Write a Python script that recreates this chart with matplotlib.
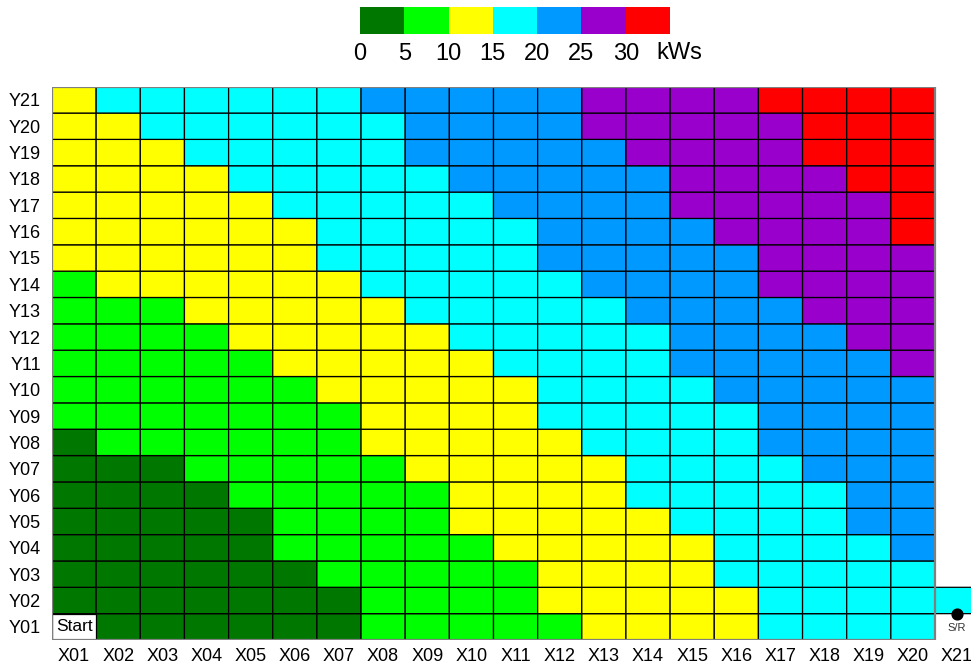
import numpy as np
import matplotlib
matplotlib.use("Agg")
import matplotlib.pyplot as plt
from matplotlib.colors import ListedColormap, BoundaryNorm
from matplotlib.patches import Rectangle

plt.rcParams["font.family"] = ["Liberation Sans", "DejaVu Sans"]

# Energy class per rack cell (bin index of 5 kWs steps), rows Y01..Y21, columns X01..X20
# nan marks the start cell
N = np.nan
energy_bins = [
    [N, 0, 0, 0, 0, 0, 0, 1, 1, 1, 1, 1, 2, 2, 2, 2, 3, 3, 3, 3],  # Y01
    [0, 0, 0, 0, 0, 0, 0, 1, 1, 1, 1, 2, 2, 2, 2, 2, 3, 3, 3, 3],  # Y02
    [0, 0, 0, 0, 0, 0, 1, 1, 1, 1, 1, 2, 2, 2, 2, 3, 3, 3, 3, 3],  # Y03
    [0, 0, 0, 0, 0, 1, 1, 1, 1, 1, 2, 2, 2, 2, 2, 3, 3, 3, 3, 4],  # Y04
    [0, 0, 0, 0, 0, 1, 1, 1, 1, 2, 2, 2, 2, 2, 3, 3, 3, 3, 4, 4],  # Y05
    [0, 0, 0, 0, 1, 1, 1, 1, 1, 2, 2, 2, 2, 3, 3, 3, 3, 3, 4, 4],  # Y06
    [0, 0, 0, 1, 1, 1, 1, 1, 2, 2, 2, 2, 2, 3, 3, 3, 3, 4, 4, 4],  # Y07
    [0, 1, 1, 1, 1, 1, 1, 2, 2, 2, 2, 2, 3, 3, 3, 3, 4, 4, 4, 4],  # Y08
    [1, 1, 1, 1, 1, 1, 1, 2, 2, 2, 2, 3, 3, 3, 3, 3, 4, 4, 4, 4],  # Y09
    [1, 1, 1, 1, 1, 1, 2, 2, 2, 2, 2, 3, 3, 3, 3, 4, 4, 4, 4, 4],  # Y10
    [1, 1, 1, 1, 1, 2, 2, 2, 2, 2, 3, 3, 3, 3, 4, 4, 4, 4, 4, 5],  # Y11
    [1, 1, 1, 1, 2, 2, 2, 2, 2, 3, 3, 3, 3, 3, 4, 4, 4, 4, 5, 5],  # Y12
    [1, 1, 1, 2, 2, 2, 2, 2, 3, 3, 3, 3, 3, 4, 4, 4, 4, 5, 5, 5],  # Y13
    [1, 2, 2, 2, 2, 2, 2, 3, 3, 3, 3, 3, 4, 4, 4, 4, 5, 5, 5, 5],  # Y14
    [2, 2, 2, 2, 2, 2, 3, 3, 3, 3, 3, 4, 4, 4, 4, 4, 5, 5, 5, 5],  # Y15
    [2, 2, 2, 2, 2, 2, 3, 3, 3, 3, 3, 4, 4, 4, 4, 5, 5, 5, 5, 6],  # Y16
    [2, 2, 2, 2, 2, 3, 3, 3, 3, 3, 4, 4, 4, 4, 5, 5, 5, 5, 5, 6],  # Y17
    [2, 2, 2, 2, 3, 3, 3, 3, 3, 4, 4, 4, 4, 4, 5, 5, 5, 5, 6, 6],  # Y18
    [2, 2, 2, 3, 3, 3, 3, 3, 4, 4, 4, 4, 4, 5, 5, 5, 5, 6, 6, 6],  # Y19
    [2, 2, 3, 3, 3, 3, 3, 3, 4, 4, 4, 4, 5, 5, 5, 5, 5, 6, 6, 6],  # Y20
    [2, 3, 3, 3, 3, 3, 3, 4, 4, 4, 4, 4, 5, 5, 5, 5, 6, 6, 6, 6],  # Y21
]
# Storage/retrieval station column X21: only the Y02 slot exists
sr_column = [N, 3] + [N] * 19

x_labels = ["X%02d" % i for i in range(1, 22)]
y_labels = ["Y%02d" % i for i in range(1, 22)]
bin_edges_kws = [0, 5, 10, 15, 20, 25, 30]
unit_label = "kWs"
bin_colors = ["#007800", "#00ff00", "#ffff00", "#00ffff", "#0099ff", "#9900cc", "#ff0000"]

cmap = ListedColormap(bin_colors)
norm = BoundaryNorm(np.arange(-0.5, len(bin_colors) + 0.5, 1), cmap.N)

W, H = 971, 668
fig = plt.figure(figsize=(W / 100, H / 100), dpi=100)

# main grid axes; x range extends past X20 so the X21 slot is cut at the figure edge
cell_w = (935 - 52) / 20.0
x_right = 20.5 + (971 - 935) / cell_w
ax = fig.add_axes([52 / W, 1 - 640 / H, (971 - 52) / W, (640 - 86.7) / H])

grid = np.column_stack([np.array(energy_bins, dtype=float), np.array(sr_column, dtype=float)])
masked = np.ma.masked_invalid(grid)
xe = np.arange(0.5, grid.shape[1] + 1, 1)
ye = np.arange(0.5, grid.shape[0] + 1, 1)
ax.pcolor(xe, ye, masked, cmap=cmap, norm=norm, edgecolors="black", linewidth=0.9)

# start cell
ax.add_patch(Rectangle((0.5, 0.5), 1, 1, facecolor="white", edgecolor="black", linewidth=0.9))
ax.text(1.0, 1.0, "Start", ha="center", va="center", fontsize=12.5)

# outer frame of the rack
ax.add_patch(Rectangle((0.5, 0.5), 20, 21, fill=False, edgecolor="#7f7f7f", linewidth=1.6, zorder=5))

# S/R point
ax.scatter([21], [1.5], s=60, color="black", zorder=6, clip_on=False)
ax.text(21, 0.95, "S/R", ha="center", va="center", fontsize=8, color="#333333")

ax.set_xlim(0.5, x_right)
ax.set_ylim(0.5, 21.5)
ax.set_xticks(np.arange(1, 22))
ax.set_xticklabels(x_labels, fontsize=13)
ax.set_yticks(np.arange(1, 22))
ax.set_yticklabels(y_labels, fontsize=13)
ax.tick_params(axis="x", length=0, pad=6)
ax.tick_params(axis="y", length=0, pad=8)
for s in ax.spines.values():
    s.set_visible(False)

# colour key
cax = fig.add_axes([360 / W, 1 - 34.3 / H, 310 / W, 27 / H])
key = np.arange(len(bin_colors))[np.newaxis, :]
cax.pcolormesh(np.arange(0, len(bin_colors) + 1), [0, 1], key, cmap=cmap, norm=norm)
cax.set_xlim(0, len(bin_colors))
cax.set_ylim(0, 1)
cax.set_yticks([])
cax.set_xticks(np.arange(len(bin_edges_kws)))
cax.set_xticklabels([str(v) for v in bin_edges_kws], fontsize=17)
cax.tick_params(length=0, pad=6)
for s in cax.spines.values():
    s.set_visible(False)
cax.text(len(bin_colors) - 0.3, -0.28, unit_label, ha="left", va="top", fontsize=17,
         transform=cax.transData)

fig.savefig("out.png", dpi=100)
